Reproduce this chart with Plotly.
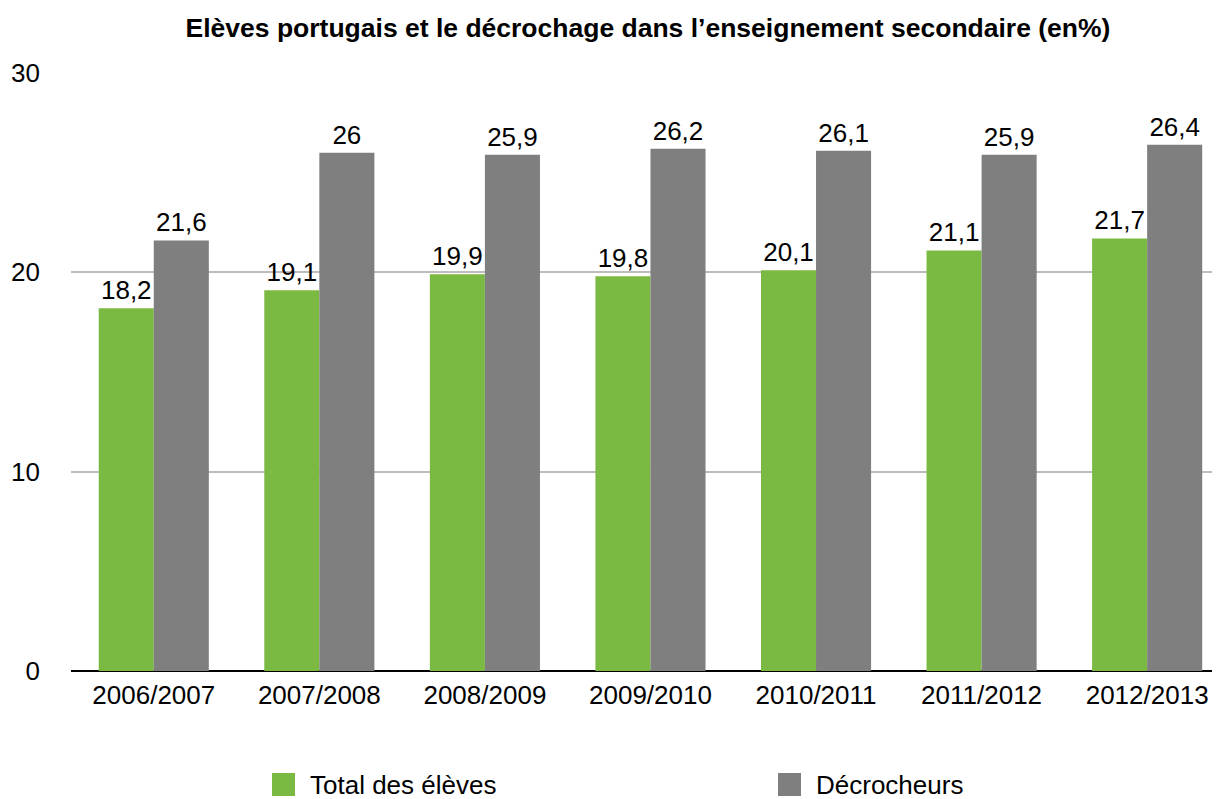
import plotly.graph_objects as go

categories = ["2006/2007", "2007/2008", "2008/2009", "2009/2010", "2010/2011", "2011/2012", "2012/2013"]
total_eleves = [18.2, 19.1, 19.9, 19.8, 20.1, 21.1, 21.7]
decrocheurs = [21.6, 26, 25.9, 26.2, 26.1, 25.9, 26.4]
series_names = ["Total des élèves", "Décrocheurs"]
y_ticks = [0, 10, 20, 30]

GREEN = "#7ab942"
GRAY = "#7f7f7f"
FONT = "Liberation Sans, Arial, Helvetica, sans-serif"

W, H = 1212, 791
L, T, PW, PH = 63, 65, 1149, 598

fig = go.Figure()
for name, vals, col in [(series_names[0], total_eleves, GREEN), (series_names[1], decrocheurs, GRAY)]:
    fig.add_trace(go.Bar(
        x=categories, y=vals, name=name, marker=dict(color=col, line=dict(width=0)),
        texttemplate="%{y}", textposition="outside", cliponaxis=False,
        textfont=dict(family=FONT, size=26, color="#000000"),
        showlegend=False,
    ))

fig.update_layout(
    width=W, height=H,
    margin=dict(l=L, r=0, t=T, b=H - T - PH),
    paper_bgcolor="white", plot_bgcolor="white",
    separators=", ",
    barmode="group", bargap=0.335, bargroupgap=0,
    font=dict(family=FONT, size=26, color="#000000"),
    title=dict(
        text="<b>Elèves portugais et le décrochage dans l’enseignement secondaire (en%)</b>",
        x=640 / W, xanchor="center", y=1 - 20 / H, yanchor="middle",
        font=dict(family=FONT, size=26.5, color="#000000"),
    ),
    xaxis=dict(
        range=[-0.5, 6.44], showgrid=False, showline=False, ticks="",
        ticklabelstandoff=6,
        tickfont=dict(family=FONT, size=26, color="#000000"),
    ),
    yaxis=dict(
        range=[0, 30], tickvals=y_ticks, showgrid=True, gridcolor="#bdbdbd", gridwidth=2,
        zeroline=True, zerolinecolor="#000000", zerolinewidth=2,
        showline=False, ticks="", ticklabelstandoff=30,
        tickfont=dict(family=FONT, size=26, color="#000000"),
    ),
)

# custom legend (positions in page pixels, offset by 8px body margin)
legend_items = [(series_names[0], GREEN, 272), (series_names[1], GRAY, 778)]
zero_px = 671
for name, col, px in legend_items:
    fig.add_shape(type="rect", xref="paper", yref="paper",
                  x0=(px - 71) / PW, x1=(px + 23 - 71) / PW,
                  y0=-(773 - zero_px + 23) / PH, y1=-(773 - zero_px) / PH,
                  fillcolor=col, line=dict(width=0))
    fig.add_annotation(xref="paper", yref="paper", x=(px + 36 - 71) / PW,
                       y=-(785 - zero_px) / PH, xanchor="left", yanchor="middle",
                       text=name, showarrow=False,
                       font=dict(family=FONT, size=26, color="#000000"))

fig.write_html("out.html")
